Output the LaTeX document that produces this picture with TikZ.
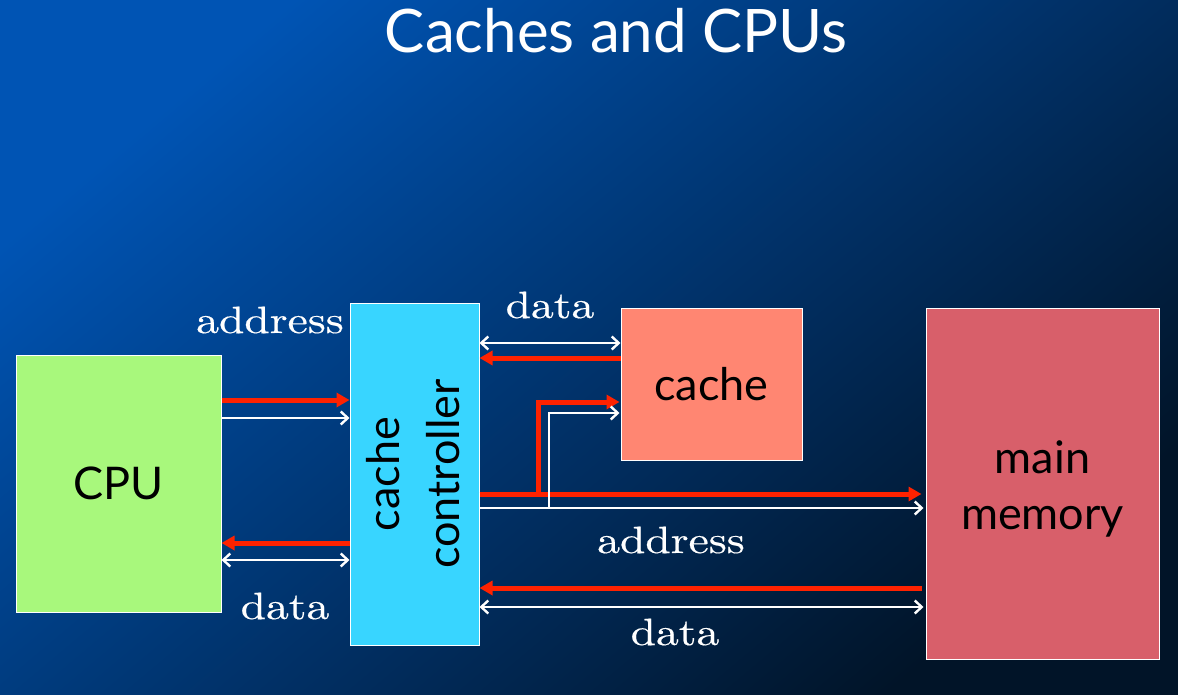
\documentclass[tikz,border=0pt]{standalone}
\usepackage{fontspec}
\usepackage{graphicx}
\usetikzlibrary{arrows.meta,calc}
\newfontfamily\gill{Lato}
\newfontfamily\lblfont{lmroman10-regular}[Extension=.otf,FakeBold=0.4]
\definecolor{bgA}{HTML}{0054B4}
\definecolor{bgM}{HTML}{012F68}
\definecolor{bgB}{HTML}{011428}
\definecolor{cpugreen}{HTML}{A8F87C}
\definecolor{cccyan}{HTML}{38D5FF}
\definecolor{cachesalmon}{HTML}{FF8672}
\definecolor{mmred}{HTML}{D85F6A}
\definecolor{arrred}{HTML}{FF2200}
\newcommand{\wlbl}[1]{\scalebox{1.2}[1]{#1}}
\begin{document}
\begin{tikzpicture}[x=1pt,y=-1pt,
  box/.style={draw=white,line width=1pt,inner sep=0pt,text=black,
    font=\gill\fontsize{45}{56}\selectfont},
  redarr/.style={draw=arrred,line width=5pt,-{Triangle[length=13pt,width=14pt]}},
  whitearr/.style={draw=white,line width=2.4pt,-{Straight Barb[length=7pt,width=13pt]}},
  whitedbl/.style={draw=white,line width=2.4pt,{Straight Barb[length=7pt,width=13pt]}-{Straight Barb[length=7pt,width=13pt]}},
  lbl/.style={text=white,font=\lblfont\fontsize{38}{42}\selectfont,anchor=base,inner sep=0pt}]
\shade[top color=bgA,middle color=bgM,bottom color=bgB,shading angle=40] (0,0) rectangle (1178,695);
\useasboundingbox (0,0) rectangle (1178,695);
\node[text=white,anchor=base,inner sep=0pt,font=\gill\fontsize{60}{70}\selectfont] (title) at (616,53) {Caches and CPUs};
% boxes
\node[box,fill=cpugreen,minimum width=205pt,minimum height=257pt] (cpu) at (118.5,483.5) {CPU};
\node[box,fill=cccyan,minimum width=129pt,minimum height=342pt] (cc) at (414.5,474)
  {\hspace*{6pt}\rotatebox{90}{\fontsize{45}{60}\selectfont\begin{tabular}{@{}c@{}}cache\\controller\end{tabular}}};
\node[box,fill=cachesalmon,minimum width=181pt,minimum height=152pt] (cache) at (711.5,384) {cache};
\node[box,fill=mmred,minimum width=233pt,minimum height=351pt] (mm) at (1042.5,483.5)
  {\begin{tabular}{@{}c@{}}\rule{0pt}{52pt}main\\memory\end{tabular}};
% CPU <-> controller
\draw[redarr] (cpu.east |- 0,400) -- (cc.west |- 0,400);
\draw[whitearr] (cpu.east |- 0,418) -- (cc.west |- 0,418);
\draw[redarr] (cc.west |- 0,543) -- (cpu.east |- 0,543);
\draw[whitedbl] (cpu.east |- 0,560) -- (cc.west |- 0,560);
% controller <-> cache
\draw[whitedbl] (cc.east |- 0,343) -- (cache.west |- 0,343);
\draw[redarr] (cache.west |- 0,358) -- (cc.east |- 0,358);
% controller <-> main memory (address)
\draw[redarr,shorten >=4pt] (cc.east |- 0,494) -- (mm.west |- 0,494);
\coordinate (rb) at (538,494);
\draw[redarr,shorten >=1pt] (rb) |- (cache.west |- 0,402);
\draw[whitearr,shorten >=2pt] (cc.east |- 0,508) -- (mm.west |- 0,508);
\coordinate (wb) at (549,508);
\draw[whitearr,shorten >=1pt] (wb) |- (cache.west |- 0,413);
% controller <-> main memory (data)
\draw[redarr,shorten <=4pt] (mm.west |- 0,588) -- (cc.east |- 0,588);
\draw[whitedbl,shorten >=2pt] (cc.east |- 0,607) -- (mm.west |- 0,607);
% labels
\node[lbl] (l1) at (270,333) {\wlbl{address}};
\node[lbl] (l2) at (550,318) {\wlbl{data}};
\node[lbl] (l3) at (285,619) {\wlbl{data}};
\node[lbl] (l4) at (671,553) {\wlbl{address}};
\node[lbl] (l5) at (675,645) {\wlbl{data}};
\end{tikzpicture}
\end{document}
